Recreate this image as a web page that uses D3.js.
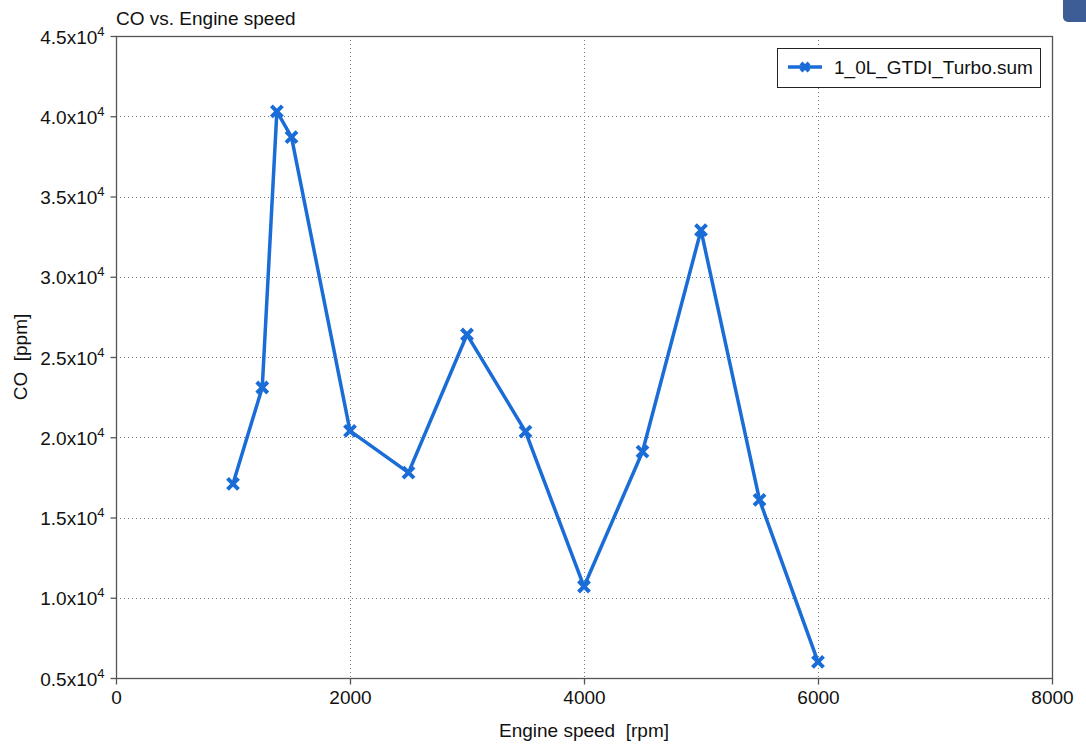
<!DOCTYPE html>
<html>
<head>
<meta charset="utf-8">
<script src="https://cdn.jsdelivr.net/npm/d3@7"></script>
<style>
  html, body { margin: 0; padding: 0; background: #fff; }
  svg { display: block; font-family: "Liberation Sans", Arial, sans-serif; }
</style>
</head>
<body>
<svg id="chart" width="1086" height="744"></svg>
<script>
// Engine speed sweep [rpm] and CO emissions [ppm]
const speeds = [1000, 1250, 1375, 1500, 2000, 2500, 3000, 3500, 4000, 4500, 5000, 5500, 6000];
const coValues = [17100, 23100, 40300, 38700, 20400, 17800, 26400, 20350, 10700, 19100, 32900, 16100, 6000];
const seriesName = "1_0L_GTDI_Turbo.sum";
const xTicks = [0, 2000, 4000, 6000, 8000];
const yTicks = [5000, 10000, 15000, 20000, 25000, 30000, 35000, 40000, 45000];

const svg = d3.select("#chart");
const W = 1086, H = 744;
const m = { left: 116, right: 1052, top: 36, bottom: 678 };
const lineColor = "#1a6dd6";
const axisColor = "#555";

const x = d3.scaleLinear().domain([0, 8000]).range([m.left, m.right]);
const y = d3.scaleLinear().domain([5000, 45000]).range([m.bottom, m.top]);

svg.append("rect").attr("width", W).attr("height", H).attr("fill", "#fff");

// small tab in the top-right corner
svg.append("rect").attr("x", 1063).attr("y", -8).attr("width", 30).attr("height", 30)
  .attr("rx", 5).attr("fill", "#3c5d96");

// grid
const grid = svg.append("g").attr("stroke", "#777").attr("stroke-width", 1)
  .attr("stroke-dasharray", "1,3");
grid.selectAll("line.h").data(yTicks.filter(v => v > 5000 && v < 45000)).join("line")
  .attr("x1", m.left).attr("x2", m.right)
  .attr("y1", d => Math.round(y(d)) + 0.5).attr("y2", d => Math.round(y(d)) + 0.5);
grid.selectAll("line.v").data(xTicks.filter(v => v > 0 && v < 8000)).join("line")
  .attr("y1", m.top).attr("y2", m.bottom)
  .attr("x1", d => Math.round(x(d)) + 0.5).attr("x2", d => Math.round(x(d)) + 0.5);

// frame
svg.append("rect").attr("x", m.left + 0.5).attr("y", m.top + 0.5)
  .attr("width", m.right - m.left).attr("height", m.bottom - m.top)
  .attr("fill", "none").attr("stroke", axisColor).attr("stroke-width", 1.3);

// axes
const xAxis = svg.append("g").attr("transform", `translate(0,${m.bottom + 0.5})`)
  .call(d3.axisBottom(x).tickValues(xTicks).tickSize(6).tickPadding(6).tickFormat(d3.format("d")));
xAxis.select(".domain").remove();
xAxis.selectAll(".tick line").attr("stroke", axisColor).attr("stroke-width", 1.3);
xAxis.selectAll(".tick text").attr("font-size", 19).attr("fill", "#111")
  .attr("font-family", "Liberation Sans, Arial, sans-serif");

const yAxis = svg.append("g").attr("transform", `translate(${m.left + 0.5},0)`)
  .call(d3.axisLeft(y).tickValues(yTicks).tickSize(6).tickPadding(8).tickFormat(""));
yAxis.select(".domain").remove();
yAxis.selectAll(".tick line").attr("stroke", axisColor).attr("stroke-width", 1.3);
yAxis.selectAll(".tick").each(function (d) {
  const t = d3.select(this).append("text")
    .attr("x", -12).attr("y", 7).attr("text-anchor", "end")
    .attr("font-size", 19).attr("fill", "#111")
    .attr("font-family", "Liberation Sans, Arial, sans-serif");
  t.append("tspan").text((d / 1e4).toFixed(1) + "x10");
  t.append("tspan").attr("dy", -8).attr("font-size", 13).text("4");
});

// title and axis labels
svg.append("text").attr("x", 116).attr("y", 25).attr("font-size", 19).attr("fill", "#111")
  .text("CO vs. Engine speed");
svg.append("text").attr("x", (m.left + m.right) / 2).attr("y", 737).attr("text-anchor", "middle")
  .attr("font-size", 19).attr("fill", "#111").attr("xml:space", "preserve")
  .text("Engine speed  [rpm]");
svg.append("text").attr("transform", `translate(27,${(m.top + m.bottom) / 2}) rotate(-90)`)
  .attr("text-anchor", "middle").attr("font-size", 19).attr("fill", "#111")
  .attr("xml:space", "preserve").text("CO  [ppm]");

// series
const data = speeds.map((s, i) => ({ s, v: coValues[i] }));
svg.append("path").datum(data)
  .attr("fill", "none").attr("stroke", lineColor).attr("stroke-width", 3.5)
  .attr("stroke-linejoin", "round")
  .attr("d", d3.line().x(d => x(d.s)).y(d => y(d.v)));

const cross = (sel, r) => sel.append("path")
  .attr("d", `M${-r},${-r}L${r},${r}M${-r},${r}L${r},${-r}`)
  .attr("stroke", lineColor).attr("stroke-width", 4).attr("fill", "none");

svg.append("g").selectAll("g").data(data).join("g")
  .attr("transform", d => `translate(${x(d.s)},${y(d.v)})`)
  .each(function () { cross(d3.select(this), 5.5); });

// legend
const lg = svg.append("g");
lg.append("rect").attr("x", 777.5).attr("y", 48.5).attr("width", 263).attr("height", 39)
  .attr("fill", "#fff").attr("stroke", "#222").attr("stroke-width", 1);
lg.append("line").attr("x1", 788).attr("x2", 822).attr("y1", 67).attr("y2", 67)
  .attr("stroke", lineColor).attr("stroke-width", 3.5);
cross(lg.append("g").attr("transform", "translate(805,67)"), 4);
lg.append("text").attr("x", 834).attr("y", 74).attr("font-size", 19).attr("fill", "#111")
  .text(seriesName);
</script>
</body>
</html>
